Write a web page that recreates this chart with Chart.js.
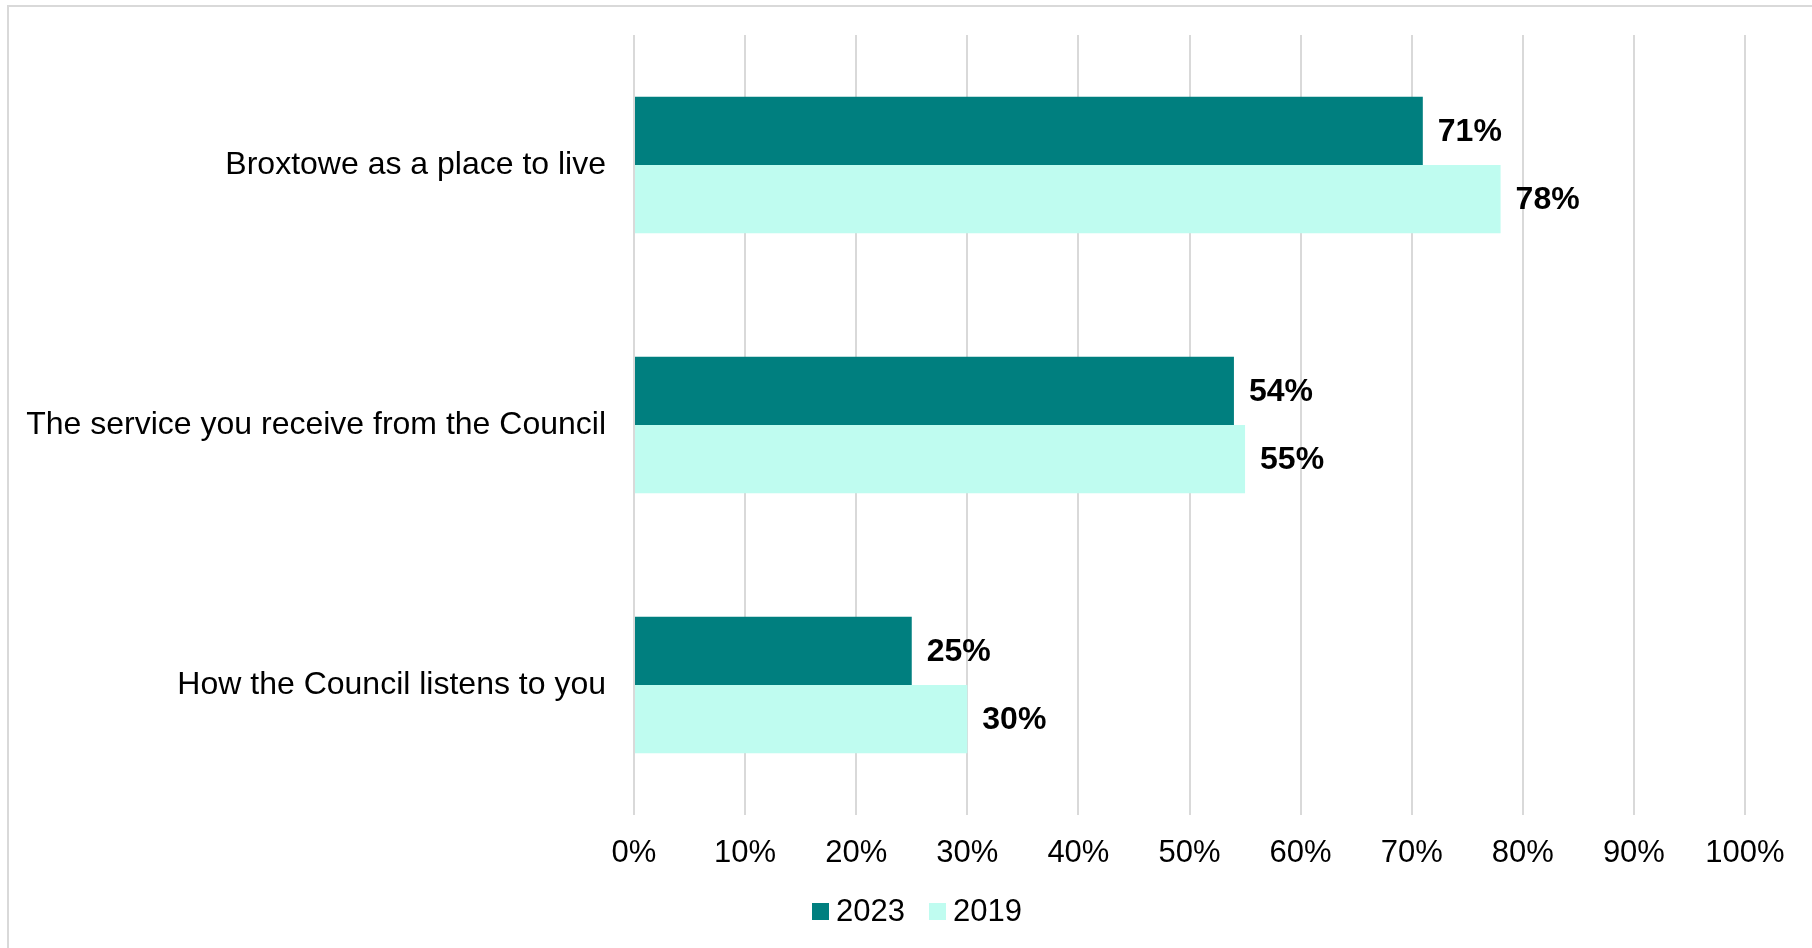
<!DOCTYPE html>
<html>
<head>
<meta charset="utf-8">
<script src="https://cdn.jsdelivr.net/npm/chart.js@4.4.1/dist/chart.umd.min.js"></script>
<style>
  html, body { margin: 0; padding: 0; background: #fff; overflow: hidden; }
  #frame {
    position: absolute; left: 7px; top: 5px; width: 1900px; height: 1000px;
    border-left: 2px solid #d9d9d9; border-top: 2px solid #d9d9d9;
  }
  #chart { position: absolute; left: 0; top: 0; }
  #legend {
    position: absolute; left: 0; width: 1834px; top: 891px; height: 40px;
    display: flex; justify-content: center; align-items: center;
    font-family: "Liberation Sans", Arial, sans-serif; font-size: 31px; color: #000;
  }
  #legend .item { display: flex; align-items: center; margin: 0 12px; }
  #legend .box { width: 17px; height: 17px; margin-right: 7px; }
</style>
</head>
<body>
<div id="frame"></div>
<canvas id="chart" width="1812" height="948"></canvas>
<div id="legend"></div>
<script>
const categories = [
    'Broxtowe as a place to live',
    'The service you receive from the Council',
    'How the Council listens to you'
];
const values2023 = [71, 54, 25];
const values2019 = [78, 55, 30];
const xTicks = [0, 10, 20, 30, 40, 50, 60, 70, 80, 90, 100];

const FONT = '"Liberation Sans", Arial, sans-serif';

// Draws the bold percentage at the end of each bar
const valueLabels = {
    id: 'valueLabels',
    afterDatasetsDraw(chart) {
        const ctx = chart.ctx;
        ctx.save();
        ctx.font = 'bold 32px ' + FONT;
        ctx.fillStyle = '#000';
        ctx.textAlign = 'left';
        ctx.textBaseline = 'middle';
        chart.data.datasets.forEach((ds, i) => {
            chart.getDatasetMeta(i).data.forEach((bar, j) => {
                ctx.fillText(ds.data[j] + '%', bar.x + 15, bar.y + 1);
            });
        });
        ctx.restore();
    }
};

const chart = new Chart(document.getElementById('chart'), {
    type: 'bar',
    data: {
        labels: categories,
        datasets: [
            {
                label: '2023',
                data: values2023,
                backgroundColor: '#007F7F',
                categoryPercentage: 0.525,
                barPercentage: 1
            },
            {
                label: '2019',
                data: values2019,
                backgroundColor: '#BFFCF0',
                categoryPercentage: 0.525,
                barPercentage: 1
            }
        ]
    },
    options: {
        indexAxis: 'y',
        responsive: false,
        animation: false,
        layout: {
            padding: { top: 35, right: 67, bottom: 60, left: 0 }
        },
        scales: {
            x: {
                min: 0,
                max: 100,
                afterBuildTicks(scale) {
                    scale.ticks = xTicks.map(v => ({ value: v }));
                },
                afterFit(scale) { scale.height = 73; },
                grid: { color: '#d9d9d9', lineWidth: 2, drawTicks: false },
                border: { display: false },
                ticks: {
                    padding: 20,
                    color: '#000',
                    font: { family: FONT, size: 31 },
                    callback: v => v + '%'
                }
            },
            y: {
                afterFit(scale) {
                    scale.width = 634;
                    scale.paddingTop = 0;
                    scale.paddingBottom = 0;
                },
                grid: { display: false },
                border: { display: false },
                ticks: {
                    padding: 20,
                    color: '#000',
                    font: { family: FONT, size: 32 }
                }
            }
        },
        plugins: {
            legend: { display: false },
            tooltip: { enabled: false }
        }
    },
    plugins: [valueLabels]
});

// legend built from the datasets
const legend = document.getElementById('legend');
chart.data.datasets.forEach(ds => {
    const item = document.createElement('div');
    item.className = 'item';
    const box = document.createElement('span');
    box.className = 'box';
    box.style.background = ds.backgroundColor;
    item.appendChild(box);
    item.appendChild(document.createTextNode(ds.label));
    legend.appendChild(item);
});
</script>
</body>
</html>
